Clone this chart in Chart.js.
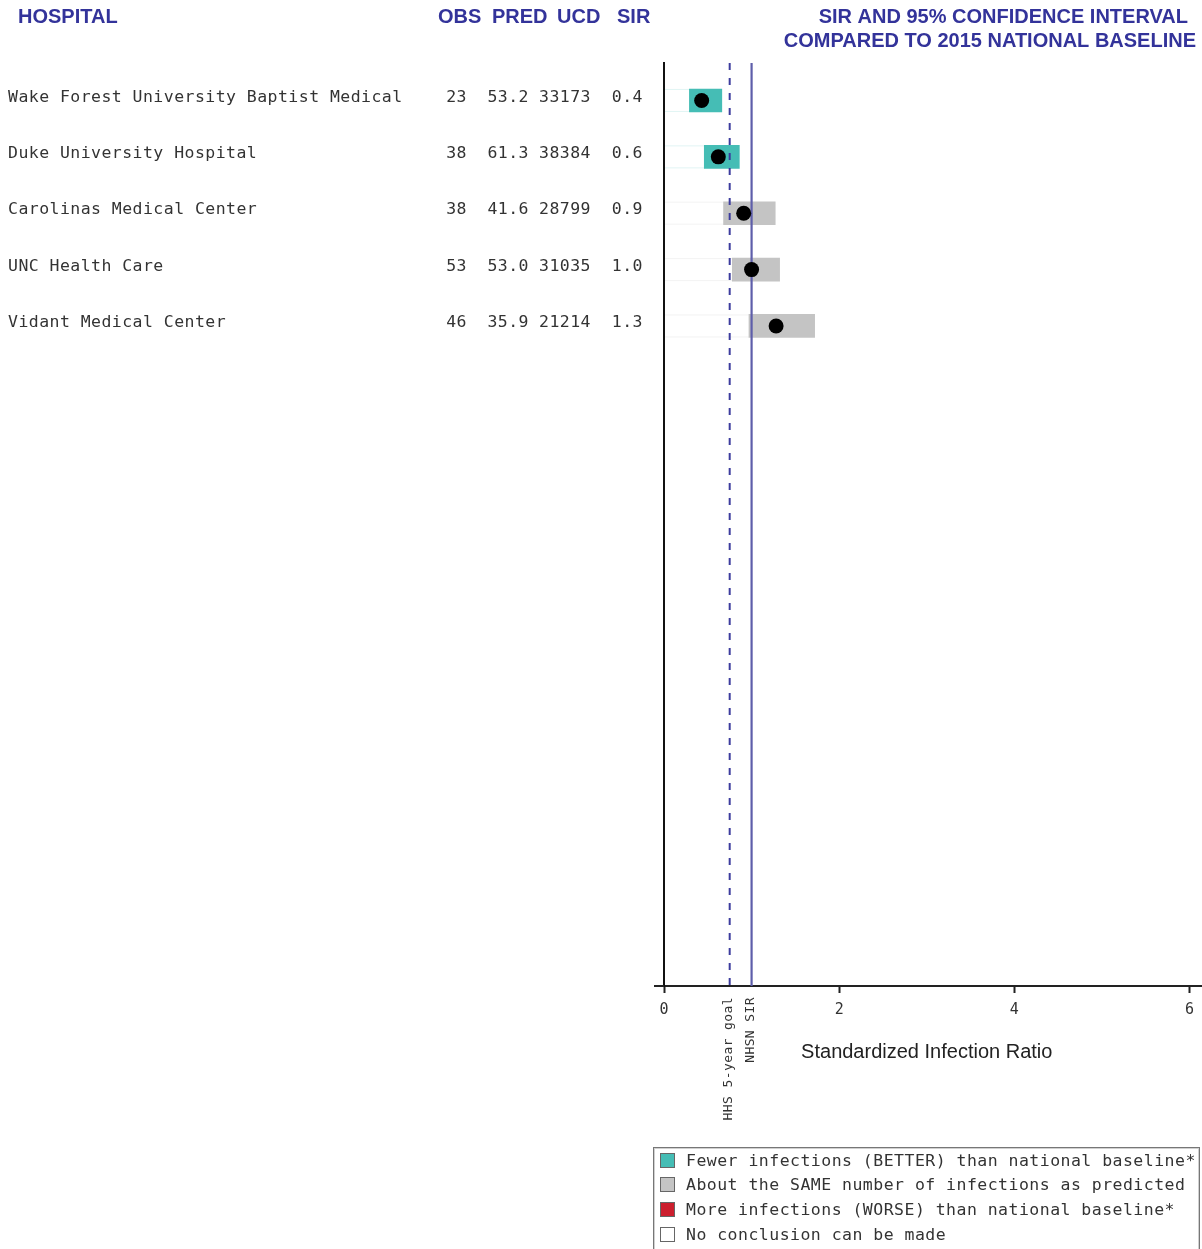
<!DOCTYPE html>
<html>
<head>
<meta charset="utf-8">
<script src="https://cdn.jsdelivr.net/npm/chart.js@4.4.0/dist/chart.umd.min.js"></script>
<style>
html,body{margin:0;padding:0;background:#fff;}
#wrap{position:relative;width:1202px;height:1249px;overflow:hidden;background:#fff;}
#c{position:absolute;left:0;top:0;}
#legend{position:absolute;left:653px;top:1147px;width:545px;height:110px;border:1px solid #777;box-shadow:inset 0 0 0 1px #d0d0d0;font:16.5px "DejaVu Sans Mono",monospace;letter-spacing:0.47px;color:#333;}
.item{position:absolute;left:6px;height:20px;display:flex;align-items:center;white-space:pre;}
.sw{width:13px;height:13px;border:1px solid #666;margin-right:11px;box-sizing:content-box;}
</style>
</head>
<body>
<div id="wrap">
<canvas id="c" width="1202" height="1249"></canvas>
<div id="legend"></div>
</div>
<script>
// ---- data ----
const hospitals = ['Wake Forest University Baptist Medical','Duke University Hospital','Carolinas Medical Center','UNC Health Care','Vidant Medical Center'];
const obs = [23, 38, 38, 53, 46];
const pred = [53.2, 61.3, 41.6, 53.0, 35.9];
const ucd = [33173, 38384, 28799, 31035, 21214];
const sir = [0.43, 0.62, 0.91, 1.0, 1.28];
const ciLow = [0.29, 0.46, 0.68, 0.78, 0.97];
const ciHigh = [0.66, 0.86, 1.27, 1.32, 1.72];
const category = ['better', 'better', 'same', 'same', 'same'];
const xTicks = [0, 2, 4, 6];
const hhsGoal = 0.75;
const nhsnSir = 1.0;
const columnHeaders = ['OBS', 'PRED', 'UCD', 'SIR'];
const legendLabels = ['Fewer infections (BETTER) than national baseline*','About the SAME number of infections as predicted','More infections (WORSE) than national baseline*','No conclusion can be made'];
const legendKeys = ['better', 'same', 'worse', 'none'];

// ---- styles ----
const catColors = {better:'#45bdb5', same:'#c4c4c4', worse:'#cc1f2e', none:'#ffffff'};
const faintColors = {better:'rgba(69,189,181,0.16)', same:'rgba(180,180,180,0.16)', worse:'rgba(204,31,46,0.16)', none:'rgba(0,0,0,0.05)'};
const HEAD = '#33339a';
const TXT = '#333333';
const MONO = '"DejaVu Sans Mono", monospace';
const SANS = '"Liberation Sans", Arial, sans-serif';

// legend (HTML)
const lg = document.getElementById('legend');
legendLabels.forEach((t, i) => {
  const d = document.createElement('div');
  d.className = 'item';
  d.style.top = (2 + i * 24.7) + 'px';
  const s = document.createElement('span');
  s.className = 'sw';
  s.style.background = catColors[legendKeys[i]];
  d.appendChild(s);
  d.appendChild(document.createTextNode(t));
  lg.appendChild(d);
});

function setSpacing(ctx, px) { if ('letterSpacing' in ctx) ctx.letterSpacing = px + 'px'; }

const overlay = {
  id: 'overlay',
  afterDatasetDraw(chart, args) {
    if (args.index !== 0) return;
    const ctx = chart.ctx, xs = chart.scales.x, ys = chart.scales.y, ca = chart.chartArea;
    ctx.save();
    const bh = 23;
    hospitals.forEach((h, i) => {
      const y = ys.getPixelForValue(i);
      const xl = xs.getPixelForValue(ciLow[i]);
      ctx.strokeStyle = faintColors[category[i]];
      ctx.lineWidth = 1;
      ctx.beginPath();
      ctx.moveTo(ca.left + 1, y - bh / 2 + 0.5); ctx.lineTo(xl, y - bh / 2 + 0.5);
      ctx.moveTo(ca.left + 1, y + bh / 2 - 0.5); ctx.lineTo(xl, y + bh / 2 - 0.5);
      ctx.stroke();
    });
    const xg = xs.getPixelForValue(hhsGoal);
    const xn = xs.getPixelForValue(nhsnSir);
    ctx.strokeStyle = '#3c3c9e';
    ctx.lineWidth = 2;
    ctx.setLineDash([7, 8]);
    ctx.beginPath(); ctx.moveTo(xg, ca.top); ctx.lineTo(xg, ca.bottom); ctx.stroke();
    ctx.setLineDash([]);
    ctx.strokeStyle = '#5e5eaa';
    ctx.lineWidth = 2.2;
    ctx.beginPath(); ctx.moveTo(xn, ca.top); ctx.lineTo(xn, ca.bottom); ctx.stroke();
    ctx.restore();
  },
  afterDraw(chart) {
    const ctx = chart.ctx, xs = chart.scales.x, ys = chart.scales.y, ca = chart.chartArea;
    ctx.save();
    ctx.strokeStyle = '#222'; ctx.lineWidth = 2;
    ctx.beginPath(); ctx.moveTo(ca.left - 10, ca.bottom); ctx.lineTo(ca.left, ca.bottom);
    ctx.moveTo(ca.right, ca.bottom); ctx.lineTo(1202, ca.bottom); ctx.stroke();
    // headers
    ctx.fillStyle = HEAD;
    ctx.font = 'bold 20px ' + SANS;
    ctx.textBaseline = 'middle';
    ctx.textAlign = 'left';
    ctx.fillText('HOSPITAL', 18, 17);
    const hx = [438, 492, 557, 617];
    columnHeaders.forEach((t, i) => ctx.fillText(t, hx[i], 17));
    ctx.textAlign = 'right';
    ctx.fillText('SIR AND 95% CONFIDENCE INTERVAL', 1188, 17);
    ctx.fillText('COMPARED TO 2015 NATIONAL BASELINE', 1196, 41);
    // table rows
    ctx.fillStyle = TXT;
    ctx.font = '16.5px ' + MONO;
    setSpacing(ctx, 0.45);
    hospitals.forEach((h, i) => {
      const y = ys.getPixelForValue(i) - 3;
      ctx.textAlign = 'left';
      ctx.fillText(h, 8, y);
      ctx.textAlign = 'right';
      ctx.fillText(String(obs[i]), 467, y);
      ctx.fillText(pred[i].toFixed(1), 529, y);
      ctx.fillText(String(ucd[i]), 591, y);
      ctx.fillText(sir[i].toFixed(1), 643, y);
    });
    // rotated reference labels
    ctx.font = '13px ' + MONO;
    setSpacing(ctx, 0.4);
    [[hhsGoal, 'HHS 5-year goal'], [nhsnSir, 'NHSN SIR']].forEach(([v, t]) => {
      const x = xs.getPixelForValue(v) - 1;
      ctx.save();
      ctx.translate(x, ca.bottom + 11);
      ctx.rotate(-Math.PI / 2);
      ctx.textAlign = 'right';
      ctx.textBaseline = 'middle';
      ctx.fillText(t, 0, 0);
      ctx.restore();
    });
    ctx.restore();
  }
};

new Chart(document.getElementById('c'), {
  type: 'bar',
  data: {
    datasets: [
      {
        type: 'bar',
        data: hospitals.map((h, i) => ({x: [ciLow[i], ciHigh[i]], y: i})),
        backgroundColor: category.map(c => catColors[c]),
        borderWidth: 0,
        barThickness: 23,
        grouped: false,
        order: 2
      },
      {
        type: 'scatter',
        data: hospitals.map((h, i) => ({x: sir[i], y: i})),
        backgroundColor: '#000',
        borderWidth: 0,
        pointRadius: 7.5,
        order: 1
      }
    ]
  },
  options: {
    indexAxis: 'y',
    responsive: false,
    animation: false,
    events: [],
    layout: {padding: {left: 664, right: 5, top: 63, bottom: 183}},
    plugins: {legend: {display: false}, tooltip: {enabled: false}},
    scales: {
      x: {
        type: 'linear',
        min: 0, max: 6,
        afterBuildTicks: s => { s.ticks = xTicks.map(v => ({value: v})); },
        afterFit: s => { s.height = 80; },
        grid: {display: true, drawOnChartArea: false, drawTicks: true, tickLength: 7, tickColor: '#222', tickWidth: 2},
        border: {display: true, color: '#222', width: 2},
        ticks: {font: {family: MONO, size: 15}, color: TXT, padding: 8, maxRotation: 0},
        title: {display: true, text: 'Standardized Infection Ratio', font: {family: SANS, size: 20}, color: '#222', padding: {top: 0, bottom: 2}}
      },
      y: {
        type: 'linear',
        reverse: true,
        offset: false,
        min: -0.665, max: 15.71,
        afterFit: s => { s.width = 0; },
        ticks: {display: false},
        grid: {display: true, drawOnChartArea: false, drawTicks: false, offset: false},
        border: {display: true, color: '#111', width: 2}
      }
    }
  },
  plugins: [overlay]
});
</script>
</body>
</html>
